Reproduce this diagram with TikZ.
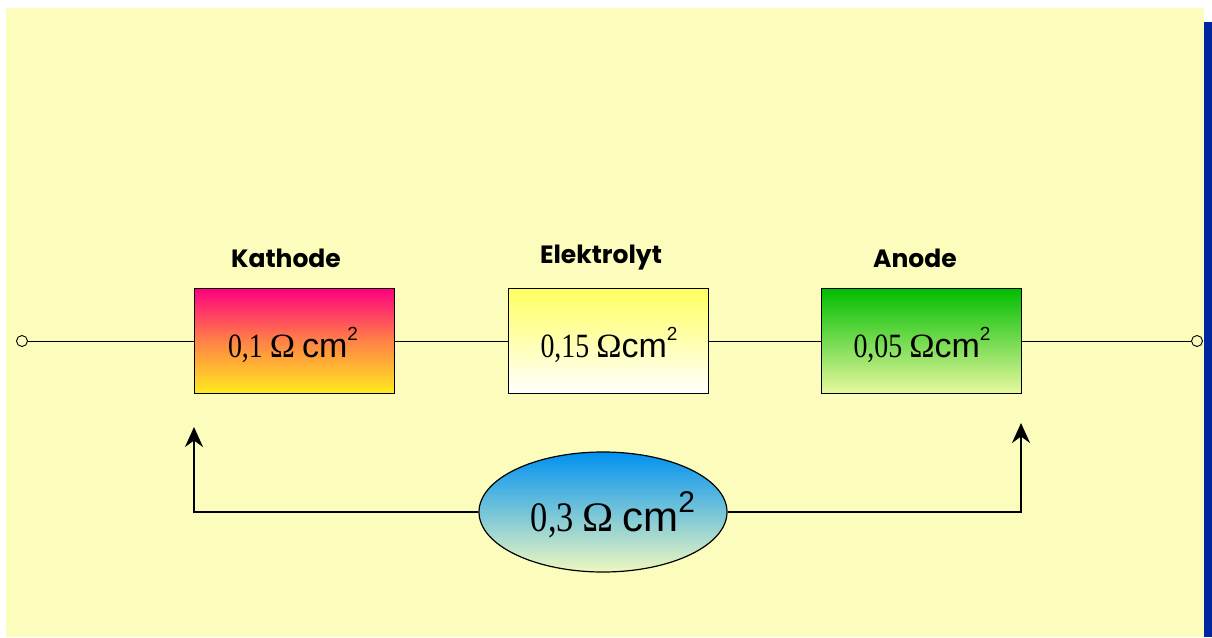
\documentclass[tikz,border=0pt]{standalone}
\usepackage{fontspec}
\setmainfont{Liberation Serif}
\setsansfont{Liberation Sans}
\newfontfamily\lblfont{Poppins}
\newfontfamily\valfont{Liberation Serif}[FakeStretch=0.82]
\usetikzlibrary{arrows.meta,shapes.geometric}
\definecolor{bgyellow}{RGB}{252,252,188}
\definecolor{barblue}{RGB}{0,38,160}
\definecolor{katTop}{RGB}{255,0,128}
\definecolor{katMid}{RGB}{255,130,70}
\definecolor{katBot}{RGB}{255,235,30}
\definecolor{elTop}{RGB}{255,255,96}
\definecolor{anTop}{RGB}{0,190,0}
\definecolor{anBot}{RGB}{232,248,160}
\definecolor{elTopB}{RGB}{0,145,240}
\definecolor{elBotB}{RGB}{238,248,192}
\newcommand{\sqr}[2]{\raisebox{#1}{\sffamily\fontsize{#2}{#2}\selectfont 2}}
\newcommand{\om}{{\rmfamily Ω}}
\tikzset{
  resbox/.style={draw=black, line width=0.8pt, minimum width=200pt, minimum height=105pt, inner sep=0pt},
  val/.style={font=\valfont\fontsize{34}{40}\selectfont},
  lbl/.style={font=\lblfont\bfseries\fontsize{25}{29}\selectfont},
  term/.style={circle, draw=black, line width=0.9pt, fill=bgyellow, minimum size=11pt, inner sep=0pt},
  wire/.style={draw=black, line width=0.7pt},
  conn/.style={draw=black, line width=2pt, -{Stealth[length=20pt,width=18pt]}}
}
\begin{document}
\begin{tikzpicture}[x=1pt,y=-1pt]
\useasboundingbox (0,0) rectangle (1212,637);
\fill[white] (0,0) rectangle (1212,637);
\fill[bgyellow] (6,8) rectangle (1204,637);
\fill[barblue] (1204,22) rectangle (1212,637);

\node[term] (tl) at (22,341) {};
\node[term] (tr) at (1197,341) {};

\node[resbox, top color=katTop, bottom color=katBot, middle color=katMid] (kat) at (294,341) {};
\node[resbox, top color=elTop, bottom color=white] (elk) at (608,341) {};
\node[resbox, top color=anTop, bottom color=anBot] (ano) at (921,341) {};

\node[val] at (293,345) {0,1 \om{} {\sffamily cm}\sqr{0.5em}{19}};
\node[val] at (609,345) {0,15 \om{\sffamily cm}\sqr{0.5em}{19}};
\node[val] at (922,345) {0,05 \om{\sffamily cm}\sqr{0.5em}{19}};

\node[lbl] at (286,258) {Kathode};
\node[lbl] at (601,258) {Elektrolyt};
\node[lbl] at (915,258) {Anode};

\draw[wire] (tl) -- (kat);
\draw[wire] (kat) -- (elk);
\draw[wire] (elk) -- (ano);
\draw[wire] (ano) -- (tr);

\node[ellipse, draw=black, line width=1.2pt, top color=elTopB, bottom color=elBotB,
      minimum width=248pt, minimum height=120pt, inner sep=0pt] (ell) at (603,512) {};
\node[font=\valfont\fontsize{42}{48}\selectfont] at (613,515) {0,3 \om{} {\sffamily cm}\sqr{0.45em}{30}};

\coordinate (ka) at (194,427);
\coordinate (aa) at (1021,423);
\draw[conn] (ell.west) -| (ka);
\draw[conn] (ell.east) -| (aa);
\end{tikzpicture}
\end{document}
